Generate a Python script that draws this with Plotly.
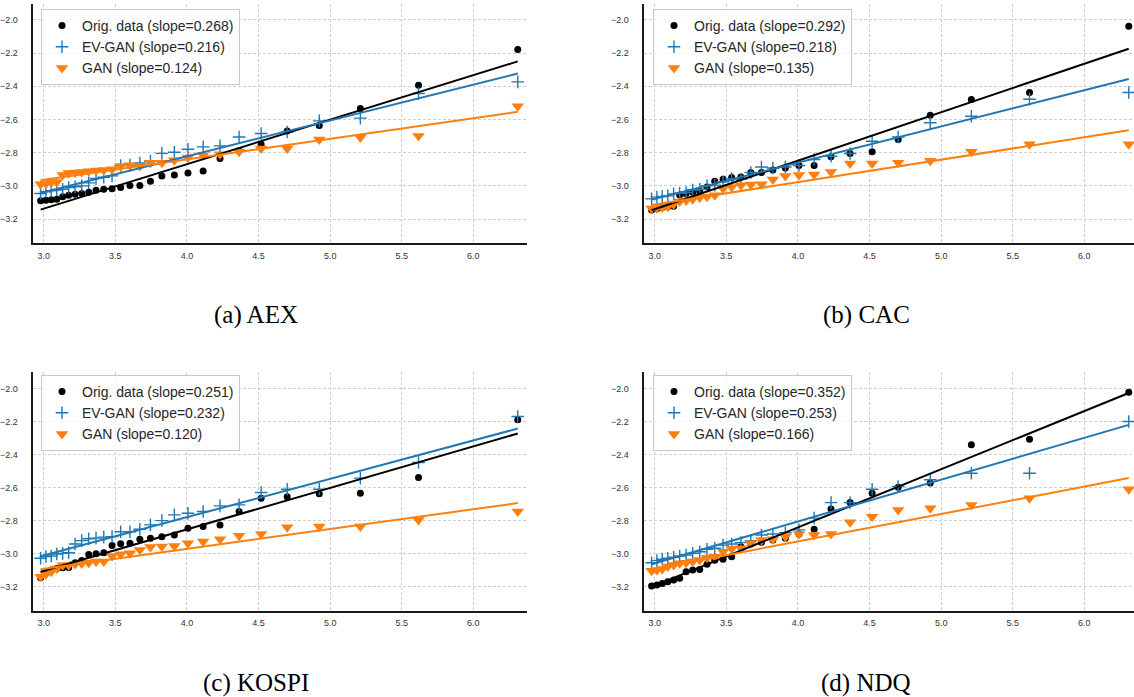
import plotly.graph_objects as go

# ---------------- data ----------------
# x positions of the tail quantiles (same for all four panels)
X_TAIL = [6.310, 5.617, 5.211, 4.924, 4.700, 4.518, 4.364, 4.231, 4.113, 4.007,
          3.912, 3.825, 3.745, 3.671, 3.602, 3.537, 3.477, 3.419, 3.365, 3.314,
          3.265, 3.219, 3.174, 3.132, 3.091, 3.052, 3.015, 2.978]

SERIES_NAMES = ["Orig. data", "EV-GAN", "GAN"]
CAPTIONS = ["(a) AEX", "(b) CAC", "(c) KOSPI", "(d) NDQ"]

X_TICKS = [3.0, 3.5, 4.0, 4.5, 5.0, 5.5, 6.0]
Y_TICKS = [-3.2, -3.0, -2.8, -2.6, -2.4, -2.2, -2.0]

# (a) AEX
AEX_ORIG = [-2.178, -2.393, -2.534, -2.636, -2.669, -2.749, -2.789, -2.835, -2.911, -2.923,
            -2.934, -2.940, -2.972, -2.998, -2.998, -3.010, -3.018, -3.020, -3.026, -3.038,
            -3.046, -3.050, -3.056, -3.066, -3.080, -3.083, -3.086, -3.090]
AEX_EVGAN = [-2.373, -2.443, -2.592, -2.608, -2.675, -2.684, -2.705, -2.759, -2.765, -2.779,
             -2.797, -2.804, -2.850, -2.862, -2.875, -2.877, -2.940, -2.948, -2.955, -2.982,
             -3.000, -3.005, -3.010, -3.020, -3.025, -3.030, -3.035, -3.046]
AEX_GAN = [-2.520, -2.700, -2.708, -2.720, -2.775, -2.775, -2.795, -2.809, -2.815, -2.829,
           -2.845, -2.860, -2.860, -2.880, -2.876, -2.880, -2.900, -2.905, -2.908, -2.912,
           -2.916, -2.920, -2.922, -2.934, -2.976, -2.980, -2.985, -2.990]

# (b) CAC
CAC_ORIG = [-2.038, -2.437, -2.480, -2.574, -2.720, -2.795, -2.805, -2.825, -2.877, -2.877,
            -2.892, -2.905, -2.919, -2.920, -2.946, -2.950, -2.960, -2.972, -3.006, -3.032,
            -3.038, -3.048, -3.055, -3.122, -3.126, -3.130, -3.138, -3.146]
CAC_EVGAN = [-2.437, -2.478, -2.580, -2.620, -2.705, -2.731, -2.805, -2.821, -2.841, -2.877,
             -2.886, -2.892, -2.886, -2.919, -2.960, -2.956, -2.975, -2.996, -3.000, -3.020,
             -3.025, -3.040, -3.044, -3.048, -3.060, -3.064, -3.068, -3.078]
CAC_GAN = [-2.749, -2.749, -2.795, -2.849, -2.861, -2.865, -2.865, -2.916, -2.931, -2.935,
           -2.941, -2.961, -2.990, -2.992, -2.996, -3.006, -3.016, -3.056, -3.066, -3.070,
           -3.080, -3.088, -3.094, -3.110, -3.126, -3.130, -3.134, -3.136]

# (c) KOSPI
KOSPI_ORIG = [-2.190, -2.539, -2.634, -2.638, -2.655, -2.664, -2.745, -2.826, -2.836, -2.846,
              -2.887, -2.897, -2.907, -2.912, -2.937, -2.940, -2.950, -2.995, -3.000, -3.005,
              -3.042, -3.055, -3.083, -3.085, -3.090, -3.099, -3.119, -3.145]
KOSPI_EVGAN = [-2.170, -2.448, -2.543, -2.610, -2.610, -2.630, -2.705, -2.711, -2.745, -2.755,
               -2.765, -2.800, -2.826, -2.852, -2.867, -2.867, -2.897, -2.900, -2.906, -2.910,
               -2.921, -2.941, -2.994, -2.998, -3.002, -3.014, -3.017, -3.028]
KOSPI_GAN = [-2.745, -2.796, -2.836, -2.836, -2.840, -2.881, -2.891, -2.913, -2.927, -2.937,
             -2.953, -2.957, -2.960, -2.978, -2.998, -3.004, -3.014, -3.048, -3.048, -3.055,
             -3.060, -3.063, -3.070, -3.070, -3.089, -3.109, -3.125, -3.139]

# (d) NDQ
NDQ_ORIG = [-2.024, -2.307, -2.341, -2.573, -2.598, -2.634, -2.691, -2.729, -2.852, -2.881,
            -2.907, -2.917, -2.931, -2.941, -2.958, -3.018, -3.034, -3.040, -3.064, -3.095,
            -3.099, -3.109, -3.149, -3.159, -3.170, -3.180, -3.190, -3.196]
NDQ_EVGAN = [-2.200, -2.513, -2.513, -2.553, -2.594, -2.610, -2.691, -2.691, -2.785, -2.856,
             -2.873, -2.881, -2.887, -2.921, -2.933, -2.941, -2.948, -2.967, -2.973, -2.988,
             -2.998, -3.008, -3.014, -3.022, -3.028, -3.034, -3.042, -3.055]
NDQ_GAN = [-2.610, -2.664, -2.705, -2.725, -2.735, -2.776, -2.810, -2.881, -2.887, -2.881,
           -2.897, -2.913, -2.917, -2.937, -2.967, -2.970, -2.988, -3.018, -3.024, -3.038,
           -3.048, -3.055, -3.058, -3.068, -3.078, -3.093, -3.099, -3.103]

# fitted lines: slopes as printed in the legends, intercepts
AEX_SLOPES = [0.268, 0.216, 0.124]
CAC_SLOPES = [0.292, 0.218, 0.135]
KOSPI_SLOPES = [0.251, 0.232, 0.120]
NDQ_SLOPES = [0.352, 0.253, 0.166]
AEX_INTERCEPTS = [-3.941, -3.686, -3.336]
CAC_INTERCEPTS = [-4.016, -3.732, -3.517]
KOSPI_INTERCEPTS = [-3.857, -3.707, -3.451]
NDQ_INTERCEPTS = [-4.249, -3.817, -3.590]

# ---------------- styling ----------------
W, H = 1134, 697
COLORS = ["#000000", "#1f77b4", "#ff7f0e"]
MARKERS = [
    dict(symbol="circle", size=7, color="#000000"),
    dict(symbol="cross-thin", size=9, color="#1f77b4", line=dict(width=1.4, color="#1f77b4")),
    dict(symbol="triangle-down", size=11, color="#ff7f0e"),
]

panels = [
    dict(ys=[AEX_ORIG, AEX_EVGAN, AEX_GAN], slopes=AEX_SLOPES, icpt=AEX_INTERCEPTS),
    dict(ys=[CAC_ORIG, CAC_EVGAN, CAC_GAN], slopes=CAC_SLOPES, icpt=CAC_INTERCEPTS),
    dict(ys=[KOSPI_ORIG, KOSPI_EVGAN, KOSPI_GAN], slopes=KOSPI_SLOPES, icpt=KOSPI_INTERCEPTS),
    dict(ys=[NDQ_ORIG, NDQ_EVGAN, NDQ_GAN], slopes=NDQ_SLOPES, icpt=NDQ_INTERCEPTS),
]

# pixel geometry of the four axes (left, right, top, bottom)
boxes = [
    (33.3, 527.0, 4.0, 243.3),
    (644.3, 1134.0, 4.0, 243.3),
    (33.3, 527.0, 371.7, 610.7),
    (644.3, 1134.0, 371.7, 610.7),
]
# legend frame pixel anchor (left, top)
legend_anchor = [(40, 12), (652, 12), (40, 378), (652, 378)]
px_per_x = 143.2
x_left = 2.927
y_ranges = [(-3.346, -1.904), (-3.346, -1.904), (-3.345, -1.899), (-3.345, -1.899)]
caption_pos = [(256, 315), (866, 315), (256, 683), (866, 683)]

fig = go.Figure()
tick_font = dict(family="Liberation Sans, Arial, sans-serif", size=9, color="#333333")

for i, p in enumerate(panels):
    n = i + 1
    xa = "x" if n == 1 else f"x{n}"
    ya = "y" if n == 1 else f"y{n}"
    leg = "legend" if n == 1 else f"legend{n}"
    xmin, xmax = min(X_TAIL), max(X_TAIL)
    # scatter points
    for s in range(3):
        label = f"{SERIES_NAMES[s]} (slope={p['slopes'][s]:.3f})"
        fig.add_trace(go.Scatter(
            x=X_TAIL, y=p["ys"][s], mode="markers", name=label,
            marker=MARKERS[s], xaxis=xa, yaxis=ya, legend=leg, showlegend=True,
            cliponaxis=False,
        ))
    # fitted lines
    for s in range(3):
        b, a = p["slopes"][s], p["icpt"][s]
        fig.add_trace(go.Scatter(
            x=[xmin, xmax], y=[a + b * xmin, a + b * xmax], mode="lines",
            line=dict(color=COLORS[s], width=2), xaxis=xa, yaxis=ya,
            showlegend=False, hoverinfo="skip",
        ))

fig.update_layout(
    width=W, height=H, margin=dict(l=0, r=0, t=0, b=0),
    paper_bgcolor="white", plot_bgcolor="white", showlegend=True,
)

for i in range(4):
    n = i + 1
    xa = "x" if n == 1 else f"x{n}"
    ya = "y" if n == 1 else f"y{n}"
    leg = "legend" if n == 1 else f"legend{n}"
    l, r, t, bt = boxes[i]
    xr = [x_left, x_left + (r - l) / px_per_x]
    axis_common = dict(
        showline=True, linecolor="#1a1a1a", linewidth=1.5, mirror=False,
        showgrid=True, gridcolor="#cfcfcf", gridwidth=1, griddash="3px,2px",
        zeroline=False, ticks="outside", tickcolor="rgba(0,0,0,0)",
        tickfont=tick_font,
    )
    fig.update_layout({
        ("xaxis" if n == 1 else f"xaxis{n}"): dict(
            axis_common, domain=[l / W, r / W], range=xr, anchor=ya,
            tickvals=X_TICKS, ticktext=[f"{v:.1f}" for v in X_TICKS], ticklen=3),
        ("yaxis" if n == 1 else f"yaxis{n}"): dict(
            axis_common, domain=[1 - bt / H, 1 - t / H], range=list(y_ranges[i]), anchor=xa,
            tickvals=Y_TICKS, ticktext=[f"\u2212{abs(v):.1f}" for v in Y_TICKS], ticklen=12),
    })
    ll, lt = legend_anchor[i]
    fig.update_layout({leg: dict(
        x=(ll + 1) / W, y=1 - (lt - 3) / H, xanchor="left", yanchor="top",
        bgcolor="rgba(255,255,255,0.8)", bordercolor="#c8c8c8", borderwidth=1,
        font=dict(family="Liberation Sans, Arial, sans-serif", size=14, color="#262626"),
    )})
    cx, cy = caption_pos[i]
    fig.add_annotation(
        text=CAPTIONS[i], x=cx / W, y=1 - cy / H, xref="paper", yref="paper",
        xanchor="center", yanchor="middle", showarrow=False,
        font=dict(family="Liberation Serif, Times New Roman, serif", size=25, color="#000000"),
    )

fig.write_html(
    "out.html",
    config={"displayModeBar": False},
    post_script="document.body.style.margin='0';document.body.style.padding='0';"
                "document.body.style.overflow='hidden';",
)
